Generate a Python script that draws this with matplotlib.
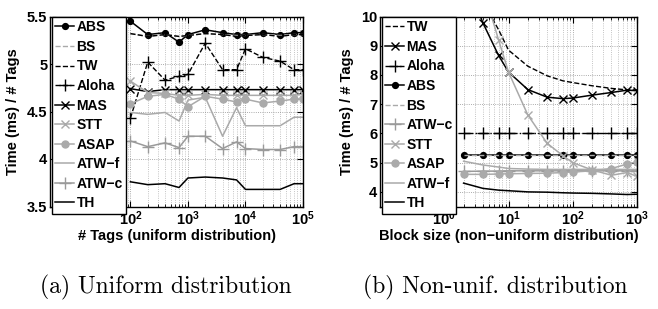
import matplotlib
matplotlib.use("Agg")
import matplotlib.pyplot as plt
from matplotlib.ticker import FixedLocator, FuncFormatter, LogLocator, NullFormatter

plt.rcParams['font.family'] = ['Liberation Sans', 'DejaVu Sans']
plt.rcParams['font.weight'] = 'bold'
plt.rcParams['mathtext.fontset'] = 'custom'
plt.rcParams['mathtext.bf'] = 'Liberation Sans:bold'
plt.rcParams['mathtext.rm'] = 'Liberation Sans:bold'

# ---------------- Data: (a) uniform distribution ----------------
tags = [100, 200, 400, 700, 1000, 2000, 4000, 7000, 10000, 20000, 40000, 70000, 100000]
a_abs = [5.45, 5.31, 5.33, 5.23, 5.31, 5.36, 5.33, 5.31, 5.31, 5.33, 5.31, 5.33, 5.33]
a_bs = [5.32, 5.29, 5.31, 5.29, 5.30, 5.32, 5.31, 5.30, 5.30, 5.31, 5.30, 5.31, 5.31]
a_tw = [5.32, 5.29, 5.31, 5.29, 5.30, 5.32, 5.31, 5.29, 5.30, 5.31, 5.29, 5.31, 5.31]
a_aloha = [4.43, 5.02, 4.83, 4.87, 4.89, 5.22, 4.94, 4.94, 5.16, 5.07, 5.03, 4.94, 4.94]
a_mas = [4.74, 4.71, 4.73, 4.73, 4.73, 4.73, 4.73, 4.73, 4.73, 4.73, 4.73, 4.73, 4.73]
a_stt = [4.82, 4.70, 4.69, 4.67, 4.67, 4.68, 4.67, 4.67, 4.67, 4.67, 4.67, 4.67, 4.68]
a_asap = [4.58, 4.66, 4.68, 4.63, 4.55, 4.66, 4.63, 4.60, 4.63, 4.59, 4.61, 4.63, 4.63]
a_atwf = [4.49, 4.47, 4.49, 4.40, 4.62, 4.65, 4.24, 4.54, 4.35, 4.35, 4.35, 4.44, 4.44]
a_atwc = [4.19, 4.13, 4.17, 4.12, 4.24, 4.24, 4.11, 4.18, 4.11, 4.10, 4.10, 4.13, 4.13]
a_th = [3.76, 3.73, 3.74, 3.70, 3.80, 3.81, 3.80, 3.78, 3.68, 3.68, 3.68, 3.74, 3.74]

# ---------------- Data: (b) non-uniform distribution ----------------
blocks = [2, 4, 7, 10, 20, 40, 70, 100, 200, 400, 700, 1000]
b_tw = [12.0, 10.5, 9.55, 8.85, 8.30, 7.97, 7.80, 7.74, 7.63, 7.54, 7.49, 7.49]
b_mas = [11.5, 9.78, 8.67, 8.10, 7.50, 7.24, 7.19, 7.21, 7.31, 7.40, 7.48, 7.46]
b_aloha = [6.0] * 12
b_abs = [5.26] * 12
b_bs = [5.26] * 12
b_atwc = [4.70, 4.71, 4.71, 4.72, 4.72, 4.72, 4.72, 4.72, 4.72, 4.72, 4.72, 4.72]
b_stt = [14.0, 11.0, 9.20, 8.10, 6.63, 5.66, 5.24, 5.00, 4.75, 4.57, 4.66, 4.53]
b_asap = [4.60, 4.60, 4.61, 4.62, 4.63, 4.64, 4.66, 4.68, 4.72, 4.80, 4.95, 5.03]
b_atwf = [5.05, 4.92, 4.85, 4.80, 4.78, 4.77, 4.77, 4.77, 4.77, 4.77, 4.77, 4.77]
b_th = [4.30, 4.12, 4.06, 4.04, 4.00, 3.99, 3.97, 3.96, 3.95, 3.93, 3.91, 3.92]

G1 = '#aaaaaa'   # light gray
G2 = '#9a9a9a'
K = 'black'

fig = plt.figure(figsize=(6.58, 3.09), dpi=100)
axA = fig.add_axes([50/658, 1-206.5/309, 253/658, 190/309])
axB = fig.add_axes([380/658, 1-206.5/309, 257/658, 190/309])

styles = {
    'ABS':   dict(color=K, ls='-', marker='o', ms=4.2, mfc=K, mec=K, lw=1.1),
    'BS':    dict(color=G1, ls='--', marker=None, lw=1.0),
    'TW':    dict(color=K, ls='--', marker=None, lw=1.0),
    'Aloha': dict(color=K, ls='--', marker='+', ms=9, mew=1.0, lw=1.0),
    'MAS':   dict(color=K, ls='-', marker='x', ms=6, mew=1.0, lw=1.1),
    'STT':   dict(color=G1, ls='-', marker='x', ms=6, mew=1.0, lw=1.1),
    'ASAP':  dict(color=G1, ls='-', marker='o', ms=5, mfc=G1, mec=G1, lw=1.1),
    'ATW-f': dict(color=G1, ls='-', marker=None, lw=1.1),
    'ATW-c': dict(color=G2, ls='-', marker='+', ms=9, mew=1.0, lw=1.1),
    'TH':    dict(color=K, ls='-', marker=None, lw=1.1),
}

seriesA = [('ABS', a_abs), ('BS', a_bs), ('TW', a_tw), ('Aloha', a_aloha), ('MAS', a_mas),
           ('STT', a_stt), ('ASAP', a_asap), ('ATW-f', a_atwf), ('ATW-c', a_atwc), ('TH', a_th)]
seriesB = [('TW', b_tw), ('MAS', b_mas), ('Aloha', b_aloha), ('ABS', b_abs), ('BS', b_bs),
           ('ATW-c', b_atwc), ('STT', b_stt), ('ASAP', b_asap), ('ATW-f', b_atwf), ('TH', b_th)]

def draw(ax, x, series, override=None):
    for name, y in series:
        st = dict(styles[name])
        if override and name in override:
            st.update(override[name])
        ax.plot(x, y, label=name.replace('-', '\u2212'), clip_on=True, **st)

draw(axA, tags, seriesA)
draw(axB, blocks, seriesB, override={'Aloha': dict(ls='-.')})

def fmt_log(v, pos):
    import math
    e = int(round(math.log10(v)))
    return r'$\mathbf{10^{%d}}$' % e

for ax in (axA, axB):
    ax.set_xscale('log')
    ax.xaxis.set_minor_locator(LogLocator(base=10, subs=range(2, 10), numticks=20))
    ax.xaxis.set_minor_formatter(NullFormatter())
    ax.xaxis.set_major_formatter(FuncFormatter(fmt_log))
    ax.grid(True, which='major', axis='both', ls=':', color='#909090', lw=0.6)
    ax.grid(True, which='minor', axis='x', ls=':', color='#b0b0b0', lw=0.6)
    ax.tick_params(which='both', direction='in', top=True, right=True, labelsize=10.5, pad=2)
    ax.tick_params(which='major', length=4)
    ax.tick_params(which='minor', length=2)
    for s in ax.spines.values():
        s.set_linewidth(1.0)
    ax.set_ylabel('Time (ms) / # Tags', fontsize=10.5, fontweight='bold', labelpad=5)

axA.set_xlim(4, 1e5)
axA.set_ylim(3.5, 5.5)
axA.xaxis.set_major_locator(FixedLocator([1e2, 1e3, 1e4, 1e5]))
axA.set_yticks([3.5, 4, 4.5, 5, 5.5])
axA.set_yticklabels(['3.5', '4', '4.5', '5', '5.5'], fontweight='bold')
axA.set_xlabel('# Tags (uniform distribution)', fontsize=10.5, fontweight='bold', labelpad=1)

axB.set_xlim(0.1, 1e3)
axB.set_ylim(3.5, 10)
axB.xaxis.set_major_locator(FixedLocator([1e0, 1e1, 1e2, 1e3]))
axB.set_yticks([4, 5, 6, 7, 8, 9, 10])
axB.set_yticklabels(['4', '5', '6', '7', '8', '9', '10'], fontweight='bold')
axB.set_xlabel('Block size (non\u2212uniform distribution)', fontsize=10.5, fontweight='bold', labelpad=1)

for ax in (axA, axB):
    leg = ax.legend(loc='upper left', bbox_to_anchor=(0.006, 0.998), frameon=True, fancybox=False,
                    framealpha=1, edgecolor='black', fontsize=10, handlelength=1.4,
                    handletextpad=0.15, labelspacing=0.40, borderpad=0.25, borderaxespad=0)
    leg.get_frame().set_linewidth(1.0)
    for t in leg.get_texts():
        t.set_fontweight('bold')

fig.text(166/658, 1-287/309, '(a) Uniform distribution', family='cmr10', fontsize=17,
         ha='center', va='center', fontweight='normal')
fig.text(495/658, 1-287/309, '(b) Non-unif. distribution', family='cmr10', fontsize=17,
         ha='center', va='center', fontweight='normal')

fig.savefig('out.png', dpi=100)
